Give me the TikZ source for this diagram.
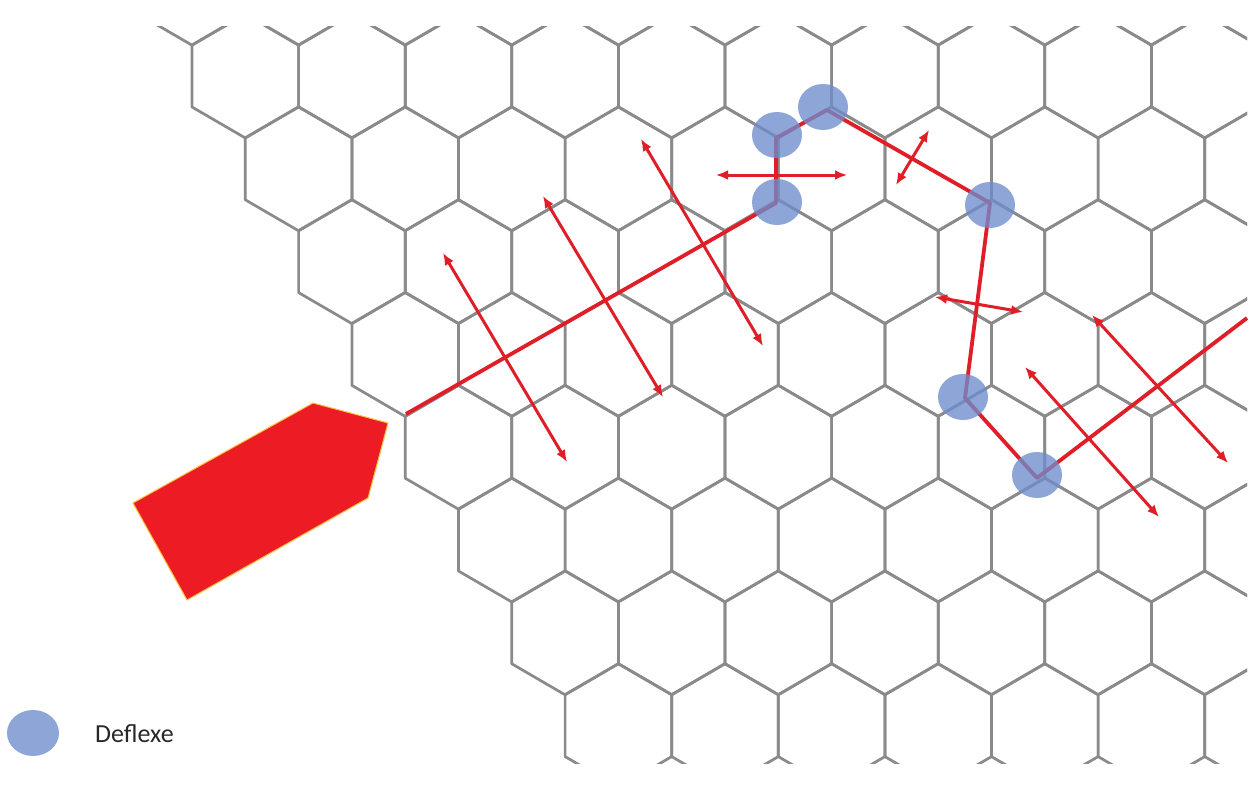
\documentclass[tikz,border=0pt]{standalone}
\usepackage{fontspec}
\setmainfont{Carlito}
\usetikzlibrary{arrows.meta}

\definecolor{grainline}{RGB}{138,138,138}
\definecolor{crackred}{RGB}{224,30,40}
\definecolor{impactred}{RGB}{237,28,36}
\definecolor{impactrim}{RGB}{255,190,60}
\definecolor{blobblue}{RGB}{110,140,205}
\definecolor{legendtext}{RGB}{40,40,40}

\begin{document}
\begin{tikzpicture}[x=1pt, y=-1pt,
    grainedge/.style={grainline, line width=2.7pt, line join=round},
    crackline/.style={crackred, line width=3.8pt, line join=round},
    slip/.style={crackred, line width=3pt, {Latex[length=12pt,width=10pt]}-{Latex[length=12pt,width=10pt]}},
    deflexedot/.style={fill=blobblue, fill opacity=0.78}]
    % Background
    \fill[white] (0,0) rectangle (1254,800);

    % Grains
    \begin{scope}
        \clip (0,27) rectangle (1247,763);
        \foreach \r in {0,...,8}
            \foreach \k in {0,...,10} {
                \pgfmathsetmacro{\cx}{192+53.3*\r+106.6*\k}
                \pgfmathsetmacro{\cy}{-16.8+92.8*\r}
                \draw[grainedge] (\cx,\cy-62) -- ++(53.3,31) -- ++(0,62) -- ++(-53.3,31)
                    -- ++(-53.3,-31) -- ++(0,-62) -- cycle;
            }
    \end{scope}

    % Impact
    \filldraw[fill=impactred, draw=impactrim, line width=1pt, line join=round]
        (133,503) -- (313,403) -- (388,423) -- (368,498) -- (187,600) -- cycle;

    % Crack path
    \coordinate (c0) at (406,414);
    \coordinate (c1) at (776,203);
    \coordinate (c2) at (776,138);
    \coordinate (c3) at (827,110);
    \coordinate (c4) at (990,203);
    \coordinate (c5) at (965,398);
    \coordinate (c6) at (1037,478);
    \coordinate (c7) at (1247,318);
    \draw[crackline] (c0) -- (c1) -- (c2) -- (c3) -- (c4) -- (c5) -- (c6) -- (c7);

    % Slip directions
    \coordinate (s1a) at (443,253);  \coordinate (s1b) at (567,462);
    \coordinate (s2a) at (543,196);  \coordinate (s2b) at (663,397);
    \coordinate (s3a) at (641,139);  \coordinate (s3b) at (763,346);
    \coordinate (s4a) at (716,175);  \coordinate (s4b) at (847,175);
    \coordinate (s5a) at (929,130);  \coordinate (s5b) at (896,185);
    \coordinate (s6a) at (935,297);  \coordinate (s6b) at (1023,312);
    \coordinate (s7a) at (1025,367); \coordinate (s7b) at (1159,517);
    \coordinate (s8a) at (1092,315); \coordinate (s8b) at (1228,463);
    \foreach \i in {1,...,8}
        \draw[slip] (s\i a) -- (s\i b);

    % Deflexe points
    \foreach \p in {(777,135),(823,107),(777,202),(990,205),(963,397),(1037,475)}
        \fill[deflexedot] \p ellipse (25pt and 23pt);

    % Legend
    \fill[deflexedot] (33,733) ellipse (26pt and 23pt);
    \node[anchor=base west, inner sep=0pt, text=legendtext, font=\fontsize{26}{30}\selectfont]
        (legend) at (95,742) {Deflexe};
\end{tikzpicture}
\end{document}
